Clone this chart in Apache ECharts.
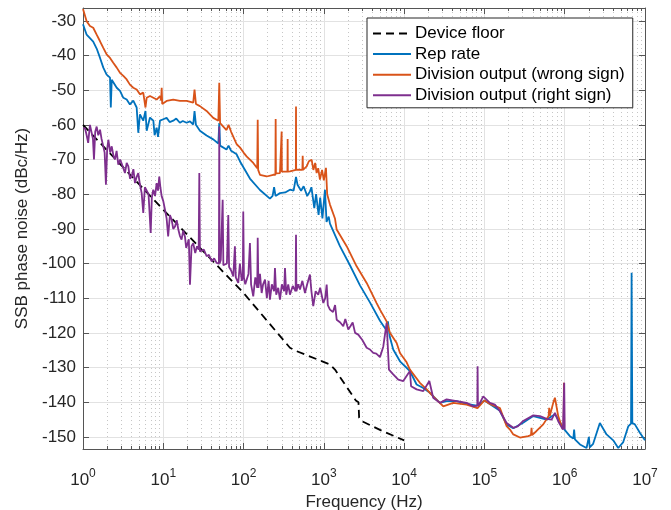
<!DOCTYPE html>
<html>
<head>
<meta charset="utf-8">
<script src="https://cdn.jsdelivr.net/npm/echarts@6/dist/echarts.min.js"></script>
<style>
html,body{margin:0;padding:0;background:#fff}
#chart{width:671px;height:510px}
</style>
</head>
<body>
<div id="chart"></div>
<script>
// tick values
var yTicks = [-150, -140, -130, -120, -110, -100, -90, -80, -70, -60, -50, -40, -30];
var xMinor = [];
for (var d = 1; d < 1e7; d *= 10) {
    for (var k = 2; k <= 9; k++) xMinor.push(k * d);
}

// [frequency Hz, dBc/Hz]
var deviceFloor = [[1,-60],[10,-84.5],[100,-108.5],[378,-124.3],[460,-125.3],[1191,-129.1],[1375,-130.6],
    [2500,-139.5],[2700,-140],[2750,-144.5],[3000,-145.5],[5000,-148],[10000,-151]];

var repRate = [[1,-31],[1.11,-34],[1.22,-35],[1.34,-36],[1.48,-38],[1.63,-40.7],[1.79,-43.5],[1.97,-45.5],
    [2.17,-46.4],[2.22,-55],[2.28,-47],[2.38,-47.3],[2.63,-49.3],[2.89,-50.2],[3.18,-52.2],[3.5,-52.7],
    [3.84,-54.1],[4.23,-53],[4.66,-55],[4.88,-62.3],[5.12,-57],[5.63,-58.8],[6.0,-56],[6.21,-61.7],
    [6.83,-57.9],[7.52,-58.8],[7.8,-63],[8.27,-60.8],[8.6,-63.5],[9.1,-58.8],[10,-58.4],[11,-58],
    [12,-59.2],[13.3,-58.8],[14.5,-58.2],[16.1,-59.4],[17.5,-58.9],[19.5,-59.4],[21.5,-59],[23.6,-59.9],
    [24.5,-56],[25.5,-60],[28.6,-61.7],[34.6,-63.1],[41.9,-64.2],[48.5,-65.4],[49.8,-59.5],[51,-66],
    [61.3,-67.1],[65,-66],[70,-67.5],[82,-68.5],[90,-70.5],[120,-75.5],[160,-78.8],[213,-81.3],[230,-80.5],
    [240,-78],[250,-80.5],[284,-79.7],[330,-79.5],[378,-78.7],[420,-79],[450,-75],[470,-77.3],[520,-79],
    [560,-77.7],[620,-80.5],[671,-79.2],[700,-78],[760,-84],[800,-80],[860,-86],[900,-81],[960,-87],
    [1032,-78.7],[1080,-88],[1150,-86.5],[1191,-88.5],[1585,-95],[2113,-100.5],[2818,-106.3],[3750,-111.2],
    [5000,-116.5],[6050,-119.3],[6280,-116.7],[6600,-121],[7310,-124.8],[8870,-128.2],[11800,-131],
    [14300,-134.9],[17300,-135.9],[20900,-137.3],[27900,-140.2],[33800,-139.7],[45100,-139.7],[60000,-140.5],
    [80000,-141],[100000,-139.5],[156000,-142.5],[189000,-146.5],[229000,-147.5],[300000,-146],[406000,-144],
    [596000,-145],[755000,-143.5],[914000,-146.5],[1000000,-148],[1160000,-149.8],[1280000,-150.5],
    [1310000,-147.9],[1340000,-150.7],[1550000,-152.2],[1870000,-153.2],[1950000,-153],[2000000,-150],
    [2050000,-153],[2260000,-152],[2740000,-146],[3320000,-149.3],[4020000,-151],[4640000,-153.2],
    [5360000,-151.5],[6180000,-147],[6700000,-146.2],[6810000,-102.7],[6950000,-146],[7480000,-146.4],
    [8630000,-148.8],[10000000,-151]];

var wrongSign = [[1,-26.6],[1.11,-30.1],[1.22,-31.5],[1.34,-32],[1.48,-34],[1.63,-35.9],[1.79,-37.8],
    [1.97,-39.7],[2.17,-40.7],[2.38,-42.1],[2.63,-43.5],[2.89,-45],[3.18,-45.9],[3.5,-46.9],[3.84,-48.4],
    [4.23,-49.3],[4.66,-49.8],[5.12,-51.2],[5.63,-50.7],[6.0,-55],[6.21,-52.2],[6.83,-51.7],[7.52,-52.2],
    [8.27,-52.7],[9.1,-51.7],[9.4,-53],[9.55,-49.3],[9.7,-54],[11,-53.1],[13.3,-52.7],[16.1,-53.1],
    [19.5,-53.1],[23.6,-53.6],[24.5,-49.8],[25.5,-54],[28.6,-54.6],[34.6,-56],[41.9,-58],[48.5,-58.8],
    [49.8,-47.9],[51,-59.5],[61.3,-61.5],[65,-60],[70,-62],[82,-65.6],[90,-66.5],[100,-68],[109,-69.1],
    [132,-71],[148,-72.5],[150,-58.5],[152,-73],[160,-74.4],[194,-74.9],[234,-74.4],[249,-74.4],[251,-58.3],
    [253,-74],[284,-73.9],[296,-74],[298,-61.9],[300,-73.5],[352,-73.5],[354,-64.1],[356,-73.5],[378,-73.4],
    [448,-73],[450,-54.7],[452,-73],[480,-72.9],[540,-73],[545,-68.9],[550,-73],[611,-72],[650,-70.5],
    [705,-70.1],[740,-73],[780,-71],[813,-73.9],[850,-72.5],[894,-75.8],[950,-73],[1000,-76],[1062,-72.4],
    [1100,-80],[1191,-83],[1375,-87],[1444,-90.2],[1923,-95],[2560,-100.8],[3413,-105.6],[4540,-111.4],
    [5000,-113.3],[6050,-116.7],[6650,-120],[8070,-122.9],[8870,-125.8],[10740,-128.5],[11800,-130.6],
    [15700,-134.4],[19100,-136.3],[23000,-138.3],[30700,-141.2],[40800,-140.2],[60000,-140.7],[82000,-141.7],
    [100000,-139.5],[117000,-140.5],[156000,-141.7],[189000,-146.9],[208000,-147.9],[229000,-149.3],
    [277000,-150.2],[351000,-149.8],[380000,-149.5],[386000,-147.4],[392000,-149.5],[446000,-148.3],
    [540000,-146.4],[630000,-144],[641000,-141.6],[652000,-144],[719000,-140.2],[755000,-138.7],
    [830000,-144],[914000,-146.9],[970000,-147.5],[977000,-134.4],[985000,-147]];

var rightSign = [[1,-61],[1.06,-61],[1.11,-63],[1.16,-65.2],[1.22,-60],[1.28,-59.5],[1.33,-64],[1.37,-70],
    [1.42,-62],[1.48,-60.5],[1.55,-63],[1.63,-61.4],[1.7,-64],[1.79,-66.2],[1.86,-68],[1.93,-77.3],
    [2.0,-67],[2.07,-64.3],[2.18,-68],[2.28,-66.2],[2.4,-69],[2.5,-70],[2.62,-67.5],[2.75,-71.5],[2.9,-70],
    [3.03,-69.6],[3.18,-72.5],[3.33,-73.9],[3.5,-71],[3.67,-72],[3.85,-75.5],[4.04,-74.9],[4.24,-72.8],
    [4.44,-76.8],[4.66,-75],[4.88,-73.9],[5.1,-77],[5.38,-79.7],[5.63,-85.4],[5.9,-78],[6.21,-77.7],
    [6.55,-80],[6.97,-91.2],[7.2,-81],[7.5,-78.7],[7.9,-80.5],[8.27,-76.8],[8.6,-79],[8.91,-74.9],
    [9.2,-78],[9.55,-80.6],[10,-82],[10.5,-84.5],[11,-87],[11.5,-92.2],[12.1,-86],[12.7,-87.3],[13.3,-90],
    [14,-89.3],[14.7,-87.5],[15.4,-90.2],[16.1,-92],[16.9,-93.1],[17.7,-90.5],[18.6,-92.2],[19.3,-95.5],
    [20.1,-95],[20.8,-93],[21.5,-106.1],[22.5,-95],[23.6,-94.1],[25,-97],[26.3,-95],[27.6,-96],[28.1,-73.9],
    [28.6,-96.5],[30.1,-97],[32,-96],[34.7,-97.9],[37,-97.5],[40.1,-99.4],[43,-98.5],[46.2,-99.8],
    [49.3,-100],[49.8,-60.5],[50.3,-100],[52,-99],[54.9,-81.6],[56,-100.5],[58.7,-100.8],[62,-100],
    [64.5,-86],[66,-101],[70,-102],[74.5,-103.7],[78,-95],[80,-104],[85.9,-105.6],[90,-100],[95,-105],
    [98,-104],[99.1,-85],[101,-104],[105,-106],[109,-105.6],[115,-103],[120,-94.1],[124,-106],[132,-109.5],
    [140,-104],[148,-107],[150,-92.6],[153,-107],[160,-103],[168,-108.5],[175,-106],[185,-104.6],[195,-110],
    [205,-105],[213,-110.4],[225,-106],[240,-108],[246,-101.3],[255,-109],[270,-107],[284,-110.4],[300,-106],
    [320,-108],[328,-101.3],[340,-109],[360,-106],[378,-109],[410,-106.5],[445,-108],[450,-91.7],[455,-108],
    [480,-106],[504,-107.5],[540,-105],[582,-108.5],[620,-106],[671,-103.2],[700,-108],[738,-112.3],
    [790,-108],[851,-109],[900,-107],[984,-111.4],[1040,-110],[1084,-106.1],[1120,-112],[1191,-113.3],
    [1300,-114],[1380,-112],[1444,-116.2],[1600,-117],[1745,-118.1],[1850,-116],[2015,-119],[2150,-118],
    [2285,-117],[2450,-120],[2682,-120.5],[3000,-122],[3413,-124.3],[3750,-124.8],[4121,-125.8],[4500,-126],
    [5000,-127],[5494,-124],[6050,-117.1],[6470,-130.6],[7310,-132],[8450,-133.5],[9750,-133.9],[11800,-131],
    [12200,-135.4],[14300,-136.3],[17300,-136.8],[20600,-133.9],[23000,-138.7],[27900,-140.2],
    [33800,-139.2],[45100,-139.7],[60000,-140.2],[72600,-141.2],[81500,-141],[82200,-129.6],[83000,-141],
    [87900,-140.2],[96600,-138.3],[117000,-140.2],[135000,-140.7],[156000,-142.6],[189000,-146],
    [229000,-147.4],[260000,-147],[300000,-145.5],[406000,-143.8],[491000,-144],[596000,-144.8],
    [687000,-145],[755000,-143.1],[830000,-145.5],[950000,-147.9],[986000,-134.4],[1000000,-147.9]];

var axisColor = '#262626';
var lineColor = '#555555';

function decadeLabel(v) {
    var e = Math.round(Math.log(v) / Math.LN10);
    return '{b|10}{s|' + e + '}';
}

function logAxis(pos, opts) {
    var a = {
        type: 'log', logBase: 10, min: 1, max: 1e7, position: pos,
        axisLine: {show: false},
        axisTick: {show: false},
        axisLabel: {show: false},
        splitLine: {show: false}
    };
    for (var k in opts) a[k] = opts[k];
    return a;
}

var chart = echarts.init(document.getElementById('chart'));
var option = {
    animation: false,
    backgroundColor: '#fff',
    textStyle: {fontFamily: 'Liberation Sans, Arial, sans-serif'},
    grid: {left: 83, right: 26, top: 8, bottom: 61, outerBoundsMode: 'none', containLabel: false},
    legend: {
        orient: 'vertical',
        left: 367, top: 18,
        padding: [7, 8, 4, 5],
        itemWidth: 38, itemHeight: 14, itemGap: 3.6,
        borderColor: '#262626', borderWidth: 1,
        backgroundColor: '#fff',
        itemStyle: {opacity: 0},
        textStyle: {fontSize: 17, color: '#000', padding: [0, 0, 0, -1]},
        data: ['Device floor', 'Rep rate', 'Division output (wrong sign)', 'Division output (right sign)']
    },
    xAxis: [
        logAxis('bottom', {
            axisLine: {show: true, lineStyle: {color: lineColor, width: 1}},
            axisTick: {show: true, inside: true, length: 6, lineStyle: {color: lineColor}},
            splitLine: {show: true, lineStyle: {color: '#e2e2e2', width: 1}},
            axisLabel: {
                show: true, margin: 19, formatter: decadeLabel,
                rich: {
                    b: {fontSize: 17, color: axisColor, fontFamily: 'Liberation Sans'},
                    s: {fontSize: 12, color: axisColor, fontFamily: 'Liberation Sans', padding: [0, 0, 12, 0]}
                }
            },
            name: 'Frequency (Hz)', nameLocation: 'middle', nameGap: 45,
            nameTextStyle: {fontSize: 17, color: axisColor}
        }),
        logAxis('bottom', {
            axisTick: {show: true, inside: true, length: 3, customValues: xMinor, lineStyle: {color: lineColor}},
            splitLine: {show: true, lineStyle: {color: '#c6c6c6', width: 1, type: [1, 3]}}
        }),
        logAxis('top', {
            axisLine: {show: true, lineStyle: {color: lineColor, width: 1}},
            axisTick: {show: true, inside: true, length: 6, lineStyle: {color: lineColor}}
        }),
        logAxis('top', {
            axisTick: {show: true, inside: true, length: 3, customValues: xMinor, lineStyle: {color: lineColor}}
        })
    ],
    yAxis: [
        {
            type: 'value', min: -153.5, max: -26.3, position: 'left',
            axisLine: {show: true, lineStyle: {color: lineColor, width: 1}},
            axisTick: {show: true, inside: true, length: 6, customValues: yTicks, lineStyle: {color: lineColor}},
            axisLabel: {customValues: yTicks, fontSize: 17, color: axisColor, margin: 7},
            splitLine: {show: true, lineStyle: {color: '#e2e2e2', width: 1}},
            name: 'SSB phase noise (dBc/Hz)', nameLocation: 'middle', nameGap: 47,
            nameTextStyle: {fontSize: 17, color: axisColor}
        },
        {
            type: 'value', min: -153.5, max: -26.3, position: 'right',
            axisLine: {show: true, lineStyle: {color: lineColor, width: 1}},
            axisTick: {show: true, inside: true, length: 6, customValues: yTicks, lineStyle: {color: lineColor}},
            axisLabel: {show: false},
            splitLine: {show: false}
        }
    ],
    series: [
        {
            name: 'Device floor', type: 'line', data: deviceFloor, symbol: 'none',
            lineStyle: {color: '#000', width: 1.8, type: [8, 5]}, itemStyle: {color: '#000'}
        },
        {
            name: 'Rep rate', type: 'line', data: repRate, symbol: 'none',
            lineStyle: {color: '#0072BD', width: 1.8}, itemStyle: {color: '#0072BD'}
        },
        {
            name: 'Division output (wrong sign)', type: 'line', data: wrongSign, symbol: 'none',
            lineStyle: {color: '#D95319', width: 1.8}, itemStyle: {color: '#D95319'}
        },
        {
            name: 'Division output (right sign)', type: 'line', data: rightSign, symbol: 'none',
            lineStyle: {color: '#7E2F8E', width: 1.8}, itemStyle: {color: '#7E2F8E'}
        }
    ]
};
chart.setOption(option);
</script>
</body>
</html>
